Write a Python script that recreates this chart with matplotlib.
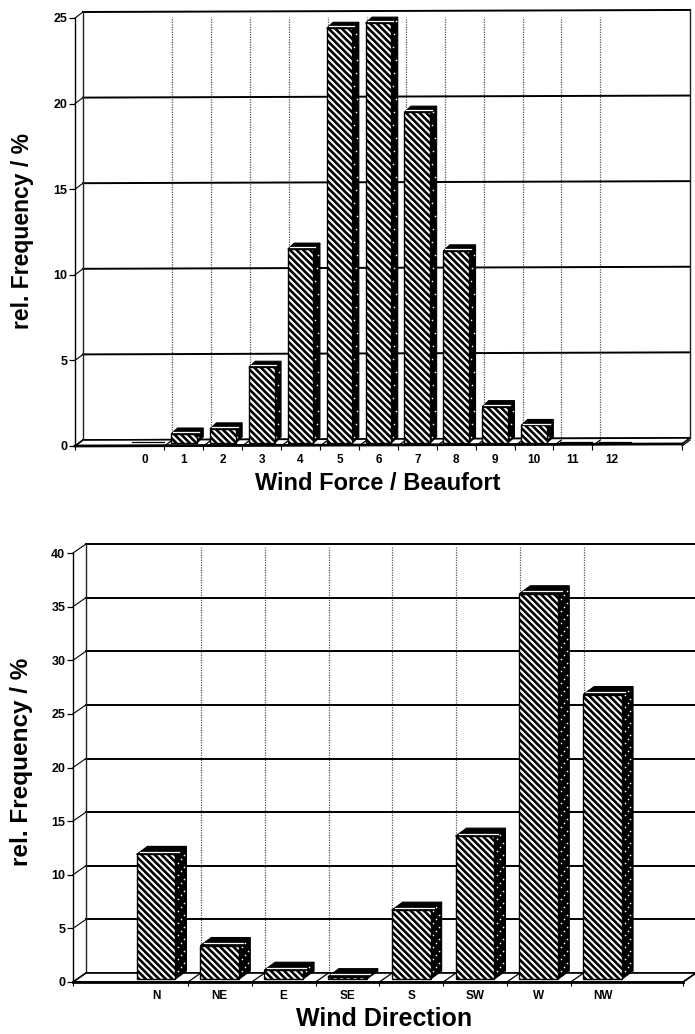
import matplotlib
matplotlib.use("Agg")
import matplotlib.pyplot as plt
from matplotlib.patches import Polygon

plt.rcParams['font.family'] = ['Liberation Sans', 'DejaVu Sans']
plt.rcParams['hatch.linewidth'] = 1.9

W, H = 695, 1034

force_labels = ['0', '1', '2', '3', '4', '5', '6', '7', '8', '9', '10', '11', '12']
force_values = [0.05, 0.7, 1.0, 4.6, 11.5, 24.4, 24.7, 19.5, 11.4, 2.3, 1.2, 0.1, 0.1]
force_yticks = [0, 5, 10, 15, 20, 25]

dir_labels = ['N', 'NE', 'E', 'SE', 'S', 'SW', 'W', 'NW']
dir_values = [11.9, 3.4, 1.1, 0.5, 6.7, 13.6, 36.2, 26.8]
dir_yticks = [0, 5, 10, 15, 20, 25, 30, 35, 40]


def draw_panel(box, c0, step, labels, values, yticks, xlabel, xlabel_xy, ylabel_xy,
               depth, bar_depth, bar_w, tilt, xsize, ysize, speck):
    left, right, top, bottom = box
    ax = fig.add_axes([left / W, 1 - bottom / H, (right - left) / W, (bottom - top) / H])
    ax.set_xlim((left - c0) / step, (right - c0) / step)
    ax.set_ylim(0, yticks[-1])
    ppx = step
    ppy = (bottom - top) / yticks[-1]
    xl, xr = ax.get_xlim()
    dx, dy = depth[0] / ppx, depth[1] / ppy
    bdx, bdy = bar_depth[0] / ppx, bar_depth[1] / ppy
    base = 3 / ppy
    n = len(labels)
    gaps = [i + 0.5 for i in range(n - 1)]

    # back wall
    for v in yticks:
        lw = 1.4 if v > 0 else 1.2
        ax.plot([xl + dx, xr + dx], [v + dy, v + dy + tilt], color='black', lw=lw, zorder=2, clip_on=False)
        ax.plot([xl, xl + dx], [v, v + dy], color='black', lw=0.8, zorder=2, clip_on=False)
    ax.plot([xl + dx, xl + dx], [dy, yticks[-1] + dy], color='#222222', lw=1.0, zorder=2, clip_on=False)
    ax.plot([xr + dx, xr + dx], [dy + tilt, yticks[-1] + dy + tilt], color='#222222', lw=1.0, zorder=2, clip_on=False)
    for g in gaps:
        ax.plot([g + dx, g + dx], [dy, yticks[-1] + dy - 0.3], color='#555555', lw=0.9,
                ls=(0, (1, 1)), zorder=1, clip_on=False)

    # floor
    ax.add_patch(Polygon([(xl, 0), (xr, tilt), (xr + dx, dy + tilt), (xl + dx, dy)], closed=True,
                         fc='white', ec='black', lw=1.2, zorder=3, clip_on=False))
    ax.plot([xl, xr], [0, tilt], color='black', lw=2.0, zorder=3, clip_on=False)
    for g in gaps + [xr]:
        ax.plot([g, g + dx], [0, dy], color='black', lw=0.9, zorder=3, clip_on=False)

    # bars
    for i, v in enumerate(values):
        if v < 0.2:
            ax.plot([i - bar_w / 2, i + bar_w / 2 + bdx], [dy * 0.6, dy * 0.6], color='black', lw=0.9,
                    zorder=4, clip_on=False)
            continue
        x0 = i - bar_w / 2
        x1 = i + bar_w / 2
        ax.add_patch(Polygon([(x1, base), (x1 + bdx, base + bdy), (x1 + bdx, v + bdy), (x1, v)], closed=True,
                             fc='black', ec='black', lw=0.8, zorder=4, clip_on=False))
        # white specks on the dark side face
        xs, ys = [], []
        y = base + bdy
        k = 0
        while y < v + bdy * 0.5:
            xs.append(x1 + bdx * (0.25 + 0.25 * (k % 3)))
            ys.append(y)
            y += speck / ppy
            k += 1
        ax.scatter(xs, ys, s=1.4, color='white', linewidths=0, zorder=5, clip_on=False)
        ax.add_patch(Polygon([(x0, v), (x0 + bdx, v + bdy), (x1 + bdx, v + bdy), (x1, v)], closed=True,
                             fc='black', ec='black', lw=0.8, zorder=5, clip_on=False))
        ax.add_patch(Polygon([(x0, base), (x1, base), (x1, v), (x0, v)], closed=True,
                             fc='white', ec='black', hatch='\\\\\\\\\\', lw=1.0, zorder=6, clip_on=False))
        if v > 0.4:
            ax.plot([x0 + 0.3 * bdx, x1 + 0.3 * bdx], [v + 0.3 * bdy, v + 0.3 * bdy], color='white', lw=0.9,
                    zorder=7, clip_on=False)

    # axes
    for s in ['top', 'right', 'bottom']:
        ax.spines[s].set_visible(False)
    ax.spines['left'].set_linewidth(1.0)
    ax.set_yticks(yticks)
    ax.set_xticks([xl] + gaps + [xr])
    ax.set_xticklabels([])
    ax.set_xticks(range(n), labels=labels, minor=True)
    ax.tick_params(axis='x', which='major', length=3, width=0.8, pad=1)
    ax.tick_params(axis='x', which='minor', length=0, pad=6, labelsize=8.5)
    ax.tick_params(axis='y', length=4.5, width=0.9, pad=1, labelsize=9)
    for t in ax.get_xticklabels(minor=True) + ax.get_yticklabels():
        t.set_fontweight('bold')
    ax.patch.set_alpha(0)

    fig.text(xlabel_xy[0] / W, 1 - xlabel_xy[1] / H, xlabel, fontsize=xsize, fontweight='bold',
             ha='center', va='center')
    fig.text(ylabel_xy[0] / W, 1 - ylabel_xy[1] / H, 'rel. Frequency / %', fontsize=ysize, fontweight='bold',
             rotation=90, ha='center', va='center')


fig = plt.figure(figsize=(W / 100, H / 100), dpi=100)

draw_panel((75, 682, 18, 446), 145, 38.9, force_labels, force_values, force_yticks,
           'Wind Force / Beaufort', (378, 483), (23, 231), (8, 6), (6.5, 6), 0.66, 0.12, 17, 16.5, 13)
draw_panel((73, 683, 553, 982), 156, 63.8, dir_labels, dir_values, dir_yticks,
           'Wind Direction', (384, 1019), (22, 762), (13, 9), (11, 8), 0.61, 0.0, 18, 17.5, 4)

fig.savefig('out.png', dpi=100)
